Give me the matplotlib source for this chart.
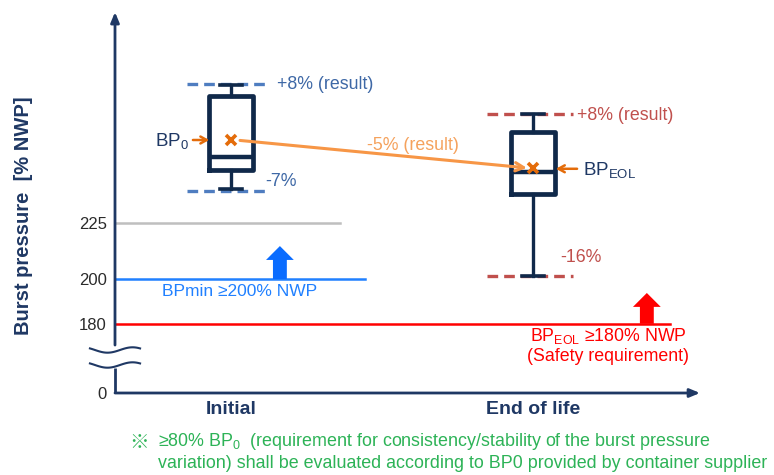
import numpy as np
import matplotlib
matplotlib.use("Agg")
import matplotlib.pyplot as plt

plt.rcParams['font.family'] = ['Liberation Sans', 'DejaVu Sans']
plt.rcParams['mathtext.fontset'] = 'custom'
plt.rcParams['mathtext.rm'] = 'Liberation Sans'

# ---------------- data ----------------
categories = ["Initial", "End of life"]
whisker_low = [240.2, 201.3]
q1 = [248.7, 238.0]
median = [254.5, 247.9]
q3 = [281.7, 265.8]
whisker_high = [286.6, 273.7]
mean_bp = [262.05, 249.4]
range_high = [287.05, 273.7]
range_low = [239.3, 201.3]
range_high_labels = ["+8% (result)", "+8% (result)"]
range_low_labels = ["-7%", "-16%"]
change_label = "-5% (result)"
ytick_values = [0, 180, 200, 225]
ytick_labels = ["0", "180", "200", "225"]
ref_gray = 225
bp_min = 200
bp_eol_min = 180

# ---------------- colours ----------------
NAVY = "#10294A"
AXC = "#1F3864"
BLUE_D = "#4F7DC0"
BLUE_T = "#3E68A6"
RED_D = "#C0504D"
ORANGE = "#F79646"
ORANGE_D = "#E46C0A"
ORANGE_T = "#F5A25D"
BLUE = "#2080FF"
BLUE_A = "#0A6CFF"
RED = "#FF0000"
GREEN = "#2DB357"

W, H = 774, 475
fig = plt.figure(figsize=(W / 100, H / 100), dpi=100)
ax = fig.add_axes([115 / W, 1 - 393 / H, (700 - 115) / W, (393 - 14) / H])

ybot, ytop = 149.1, 318.3
ax.set_xlim(-0.384, 1.553)
ax.set_ylim(ybot, ytop)
for s in ax.spines.values():
    s.set_visible(False)

# axes drawn as arrows, with a break on y
ybreak_lo, ybreak_hi = 160.3, 170.5
ax.plot([-0.384, -0.384], [ybot, ybreak_lo], color=AXC, lw=2, clip_on=False,
        solid_capstyle='butt')
ax.annotate("", xy=(0, 1.005), xycoords='axes fraction',
            xytext=(0, (ybreak_hi - ybot) / (ytop - ybot)), textcoords='axes fraction',
            arrowprops=dict(arrowstyle="-|>,head_width=0.25,head_length=0.6",
                            color=AXC, lw=2, shrinkA=0, shrinkB=0))
ax.annotate("", xy=(1.0, 0), xycoords='axes fraction',
            xytext=(0, 0), textcoords='axes fraction',
            arrowprops=dict(arrowstyle="-|>,head_width=0.25,head_length=0.6",
                            color=AXC, lw=2, shrinkA=0, shrinkB=0))
# break marks
t = np.linspace(0, 1, 60)
xw = -0.467 + t * (0.166)
for yb in (168.3, 161.6):
    ax.plot(xw, yb - 1.2 * np.sin(2 * np.pi * (t - 0.1)), color=AXC, lw=1.5,
            clip_on=False)

# ticks
yt_pos = [ybot if v == 0 else v for v in ytick_values]
ax.set_yticks(yt_pos)
ax.set_yticklabels(ytick_labels, fontsize=12, color="#2B2B2B")
ax.set_xticks([0, 1])
ax.set_xticklabels(categories, fontsize=14, fontweight='bold', color=AXC)
ax.tick_params(axis='both', length=0)
ax.tick_params(axis='y', pad=6)
ax.tick_params(axis='x', pad=6)

ax.set_ylabel("Burst pressure  [% NWP]", fontsize=14.5, fontweight='bold', color=AXC)
ax.yaxis.set_label_coords((33 - 115) / 585, (393 - 216) / 379)

# reference lines
ax.axhline(ref_gray, xmin=0, xmax=(340 - 115) / 585, color="#BFBFBF", lw=1.8)
ax.axhline(bp_min, xmin=0, xmax=(365 - 115) / 585, color=BLUE, lw=1.8)
ax.axhline(bp_eol_min, xmin=0, xmax=(670 - 115) / 585, color=RED, lw=1.8)

ax.annotate("", xy=(0.162, 214.7), xytext=(0.162, bp_min),
            arrowprops=dict(arrowstyle="simple,head_width=2.0,head_length=1.0,tail_width=1.0",
                            color=BLUE_A, lw=0, shrinkA=0, shrinkB=0))
ax.annotate("", xy=(1.377, 193.75), xytext=(1.377, bp_eol_min),
            arrowprops=dict(arrowstyle="simple,head_width=2.0,head_length=1.0,tail_width=1.0",
                            color=RED, lw=0, shrinkA=0, shrinkB=0))
ax.text(-0.228, 194.5, "BPmin ≥200% NWP", color=BLUE, fontsize=12.5, va='center')
ax.text(1.25, 174.6, r"BP$\mathregular{_{EOL}}$ ≥180% NWP", color=RED, fontsize=12.8,
        va='center', ha='center')
ax.text(1.25, 165.2, "(Safety requirement)", color=RED, fontsize=12.8,
        va='center', ha='center')

# range dashed lines
rng_x = [(-0.146, 0.129), (0.848, 1.132)]
rng_col = [BLUE_D, RED_D]
txt_col = [BLUE_T, RED_D]
for i in range(2):
    for yv in (range_high[i], range_low[i]):
        ax.plot(rng_x[i], [yv, yv], color=rng_col[i], lw=2.4, ls=(0, (3.2, 1.8)),
                zorder=2)
ax.text(0.152, range_high[0] - 0.3, range_high_labels[0], color=txt_col[0], fontsize=12.8,
        va='center')
ax.text(0.113, 243.3, range_low_labels[0], color=txt_col[0], fontsize=12.8, va='center')
ax.text(1.146, 273.0, range_high_labels[1], color=txt_col[1], fontsize=12.8, va='center')
ax.text(1.090, 209.5, range_low_labels[1], color=txt_col[1], fontsize=12.8, va='center')

# boxes
stats = []
for i in range(2):
    stats.append(dict(whislo=whisker_low[i], q1=q1[i], med=median[i], q3=q3[i],
                      whishi=whisker_high[i], mean=mean_bp[i], fliers=[]))
ax.bxp(stats, positions=[0, 1], widths=0.145, capwidths=0.07, showmeans=True,
       showfliers=False, manage_ticks=False,
       boxprops=dict(color=NAVY, lw=3.4, solid_joinstyle='round'),
       whiskerprops=dict(color=NAVY, lw=2.4),
       capprops=dict(color=NAVY, lw=2.6),
       medianprops=dict(color=NAVY, lw=3.2),
       meanprops=dict(marker='x', markeredgecolor=ORANGE_D, markersize=7,
                      markeredgewidth=2.6),
       zorder=3)

# change arrow
ax.annotate("", xy=(1 - 0.02, mean_bp[1] + 0.2), xytext=(0.03, mean_bp[0] - 0.2),
            arrowprops=dict(arrowstyle="->,head_width=0.3,head_length=0.6",
                            color=ORANGE, lw=2.2, shrinkA=0, shrinkB=0), zorder=4)
ax.text(0.603, 259.8, change_label, color=ORANGE_T, fontsize=12.8, va='center', ha='center')

# BP0 / BPEOL labels
ax.annotate("", xy=(-0.072, mean_bp[0]), xytext=(-0.126, mean_bp[0]),
            arrowprops=dict(arrowstyle="->,head_width=0.25,head_length=0.45",
                            color=ORANGE_D, lw=1.8, shrinkA=0, shrinkB=0))
ax.text(-0.14, mean_bp[0] - 0.6, r"BP$\mathregular{_0}$", color=AXC, fontsize=13.5,
        va='center', ha='right')
ax.annotate("", xy=(1.076, mean_bp[1] - 0.2), xytext=(1.146, mean_bp[1] - 0.2),
            arrowprops=dict(arrowstyle="->,head_width=0.25,head_length=0.45",
                            color=ORANGE_D, lw=1.8, shrinkA=0, shrinkB=0))
ax.text(1.166, mean_bp[1] - 0.8, r"BP$\mathregular{_{EOL}}$", color=AXC, fontsize=13.5,
        va='center', ha='left')

# footnote
fig.text(129 / W, 1 - 442 / H, "※", color=GREEN, fontsize=14,
         family=['Noto Sans CJK JP', 'DejaVu Sans'], va='center')
fig.text(158 / W, 1 - 442 / H,
         r"≥80% BP$\mathregular{_0}$  (requirement for consistency/stability of the burst pressure",
         color=GREEN, fontsize=12.9, va='center')
fig.text(158 / W, 1 - 464 / H,
         "variation) shall be evaluated according to BP0 provided by container supplier",
         color=GREEN, fontsize=12.9, va='center')

fig.savefig("out.png", dpi=100)
